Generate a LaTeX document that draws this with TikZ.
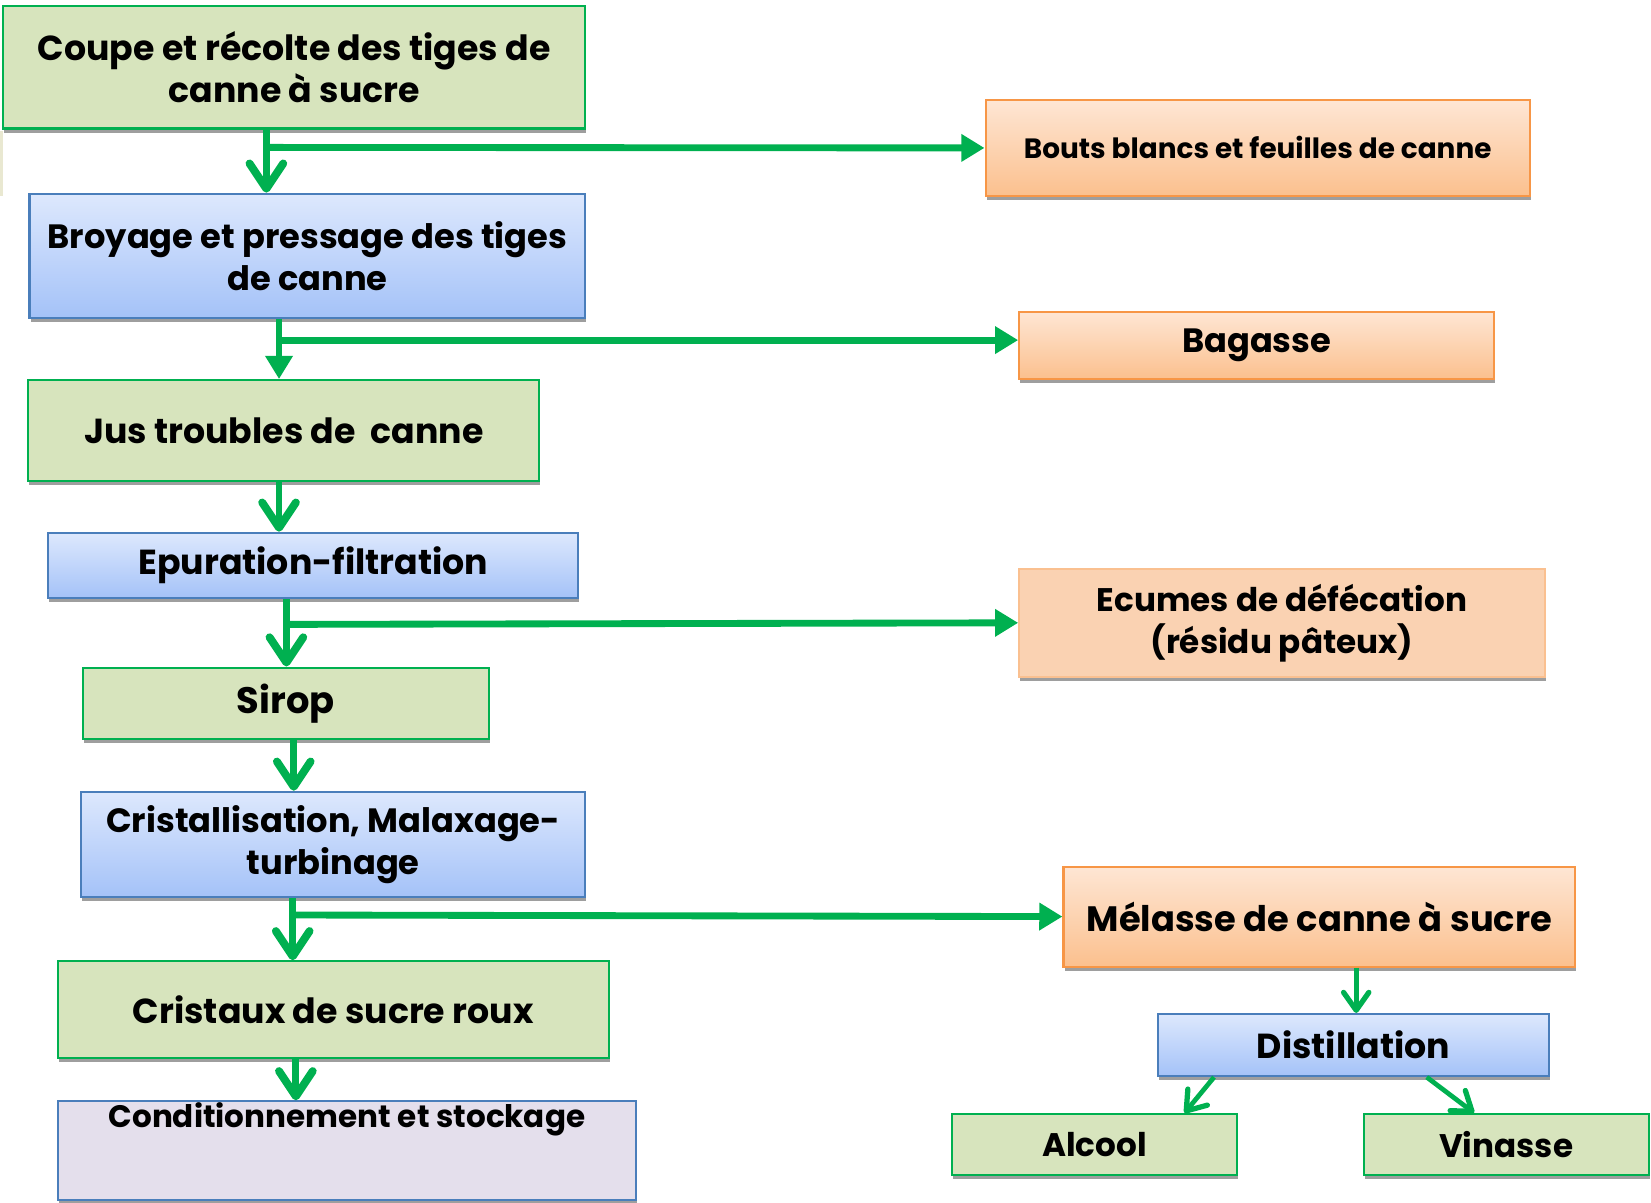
\documentclass[tikz,border=0pt]{standalone}
\usepackage{fontspec}
\setmainfont{Poppins}
\usetikzlibrary{arrows.meta,shadows}
\definecolor{gfill}{HTML}{D7E4BD}
\definecolor{gline}{HTML}{00B050}
\definecolor{btop}{HTML}{DDE8FD}
\definecolor{bbot}{HTML}{A4C2F8}
\definecolor{bline}{HTML}{4A7EBB}
\definecolor{otop}{HTML}{FEE6D4}
\definecolor{obot}{HTML}{FBC08E}
\definecolor{oline}{HTML}{F79646}
\definecolor{efill}{HTML}{FAD2B2}
\definecolor{eline}{HTML}{FAC090}
\definecolor{pfill}{HTML}{E4DFEC}
\definecolor{arr}{HTML}{00B050}
\begin{document}
\begin{tikzpicture}[x=1pt,y=-1pt,
  box/.style={rectangle, inner sep=0pt, align=center, line width=2pt, font=\bfseries\fontsize{33}{40}\selectfont,
    drop shadow={shadow xshift=1pt, shadow yshift=-4pt, fill=black!38, opacity=1}},
  greenbox/.style={box, draw=gline, fill=gfill},
  bluebox/.style={box, draw=bline, top color=btop, bottom color=bbot},
  orangebox/.style={box, draw=oline, top color=otop, bottom color=obot},
  flow/.style={draw=arr, line width=6.5pt},
  thinflow/.style={draw=arr, line width=4.5pt},
  barb/.style={-{Straight Barb[length=24pt,width=32pt,line width=7.5pt,round]}},
  thinbarb/.style={-{Straight Barb[length=17pt,width=24pt,line width=5pt,round]}},
  tri/.style={-{Triangle[length=22pt,width=25pt]}}
]
\useasboundingbox (0,0) rectangle (1568,1142);
\fill[fill=yellow!35!gray!30] (0,124) rectangle (2.5,186);

% left column
\node[greenbox, minimum width=553pt, minimum height=116pt] (coupe) at (279.5,64) {Coupe et récolte des tiges de\\canne à sucre};
\node[bluebox, minimum width=528pt, minimum height=118pt, font=\bfseries\fontsize{32}{40}\selectfont] (broyage) at (292,243) {Broyage et pressage des tiges\\de canne};
\node[greenbox, minimum width=485pt, minimum height=96pt] (jus) at (269.5,409) {Jus troubles de\ \ canne};
\node[bluebox, minimum width=503pt, minimum height=62pt] (epur) at (297.5,537) {Epuration-filtration};
\node[greenbox, minimum width=385pt, minimum height=68pt, font=\bfseries\fontsize{35}{40}\selectfont] (sirop) at (271.5,668) {Sirop};
\node[bluebox, minimum width=479pt, minimum height=100pt, font=\bfseries\fontsize{32}{40}\selectfont] (crist) at (316.5,802) {Cristallisation, Malaxage-\\turbinage};
\node[greenbox, minimum width=523pt, minimum height=92pt] (cristaux) at (316.5,959) {Cristaux de sucre roux};
\node[box, draw=bline, fill=pfill, minimum width=549pt, text height=25pt, text depth=69pt, font=\bfseries\fontsize{29.5}{34}\selectfont] (cond) at (329.5,1093) {Conditionnement et stockage};

% right column
\node[orangebox, minimum width=517pt, minimum height=91pt, font=\bfseries\fontsize{26.5}{30}\selectfont] (bouts) at (1194.5,140.5) {Bouts blancs et feuilles de canne};
\node[orangebox, minimum width=451pt, minimum height=64pt, font=\bfseries\fontsize{32}{40}\selectfont] (bagasse) at (1193.5,328) {Bagasse};
\node[box, draw=eline, fill=efill, minimum width=499pt, minimum height=103pt, font=\bfseries\fontsize{31}{40}\selectfont] (ecumes) at (1217.5,591.5) {Ecumes de défécation\\(résidu pâteux)};
\node[orangebox, minimum width=486pt, minimum height=95pt, font=\bfseries\fontsize{33.5}{40}\selectfont] (melasse) at (1253,870.5) {Mélasse de canne à sucre};
\node[bluebox, minimum width=371pt, minimum height=59pt] (distill) at (1285.5,992.5) {Distillation};
\node[greenbox, minimum width=271pt, minimum height=58pt, font=\bfseries\fontsize{31}{40}\selectfont] (alcool) at (1039.5,1087) {Alcool};
\node[greenbox, minimum width=271pt, minimum height=58pt, font=\bfseries\fontsize{31}{40}\selectfont] (vinasse) at (1430.5,1087) {Vinasse};

% junctions
\coordinate (j1) at (253,140);
\coordinate (j2) at (265,323);
\coordinate (j3) at (272,593);
\coordinate (j4) at (278,869);

% main flow
\draw[flow, barb] ([xshift=-26.5pt]coupe.south) -- ([xshift=-39pt]broyage.north);
\draw[flow, tri] (j1) -- (bouts.west);
\draw[flow, tri] ([xshift=-27pt]broyage.south) -- ([xshift=-4.5pt]jus.north);
\draw[flow, tri] (j2) -- ([yshift=5pt]bagasse.west);
\draw[flow, barb] ([xshift=-4.5pt]jus.south) -- ([xshift=-32.5pt]epur.north);
\draw[flow, barb] ([xshift=-25.5pt]epur.south) -- ([xshift=0.5pt]sirop.north);
\draw[flow, tri] (j3) -- (ecumes.west);
\draw[flow, barb] ([xshift=7.5pt]sirop.south) -- ([xshift=-37.5pt]crist.north);
\draw[flow, barb] ([xshift=-38.5pt]crist.south) -- ([xshift=-38.5pt]cristaux.north);
\draw[flow, tri] (j4) -- (melasse.west);
\draw[flow, barb] ([xshift=-35.5pt]cristaux.south) -- ([xshift=-48.5pt]cond.north);

% molasses branch
\draw[thinflow, thinbarb] ([xshift=35pt]melasse.south) -- ([xshift=2.5pt]distill.north);
\draw[thinflow, thinbarb] ([xshift=-132.5pt]distill.south) -- ([xshift=85.5pt]alcool.north);
\draw[thinflow, thinbarb] ([xshift=69.5pt]distill.south) -- ([xshift=-30.5pt]vinasse.north);
\end{tikzpicture}
\end{document}
